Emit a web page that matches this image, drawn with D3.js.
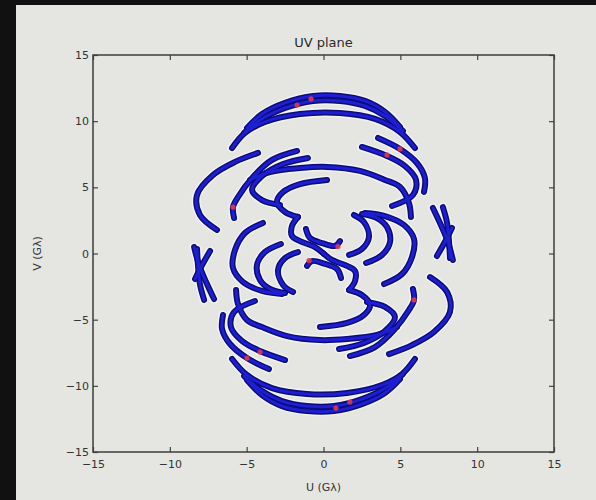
<!DOCTYPE html>
<html><head><meta charset="utf-8">
<script src="https://cdn.jsdelivr.net/npm/d3@7"></script>
<style>html,body{margin:0;padding:0;background:#e5e6e2;}svg{display:block}</style>
</head><body><svg id="chart" width="596" height="500"></svg>
<script>
// ---- data (U, V in Gλ); each track is one baseline, its conjugate (-u,-v) is drawn too ----
const axisTicks = [-15, -10, -5, 0, 5, 10, 15];
const chartTitle = "UV plane";
const xLabel = "U (Gλ)";
const yLabel = "V (Gλ)";

const trackT1  = [[-4.98,9.49],[-4.00,10.54],[-2.50,11.38],[-0.68,11.90],[1.07,11.90],[2.70,11.53],[4.00,10.70],[4.98,9.56]];
const trackT1b = [[-5.17,9.11],[-4.13,10.09],[-2.50,11.00],[-0.68,11.53],[1.07,11.53],[2.70,11.15],[4.00,10.39],[5.17,9.26]];
const trackT2  = [[-5.95,7.97],[-5.11,9.11],[-3.81,9.94],[-1.53,10.54],[1.07,10.62],[3.35,10.17],[4.98,9.18],[5.95,7.97]];
const trackC   = [[2.50,8.05],[4.13,7.37],[5.30,6.61],[6.02,5.56],[5.82,4.42],[4.46,3.59]];
const trackD   = [[3.55,8.73],[4.98,7.90],[6.08,6.84],[6.60,5.71],[6.54,4.65]];
const trackE   = [[-4.78,5.56],[-3.48,6.16],[-1.53,6.46],[0.23,6.54],[2.37,6.24],[4.00,5.56],[4.98,5.03],[5.56,3.82],[5.69,2.76]];
const trackF   = [[-4.26,7.60],[-5.76,6.92],[-7.19,5.93],[-8.23,4.42],[-8.04,2.91],[-6.93,1.78]];
const trackG   = [[-1.72,7.75],[-3.35,7.07],[-4.59,5.78],[-5.56,4.27],[-5.89,3.51],[-5.82,2.68]];
const trackH   = [[-1.01,7.22],[-2.63,6.76],[-4.00,5.86],[-4.65,4.80],[-4.00,4.04],[-2.83,3.67]];
const trackI   = [[0.23,5.56],[-1.53,5.25],[-2.63,4.65],[-3.03,3.89],[-2.50,3.14],[-1.66,2.76]];
const trackW1  = [[-1.66,2.76],[-2.05,2.08],[-2.05,1.32],[-1.53,0.94],[-0.55,0.49],[0.0,0.0]];
const trackW2  = [[-1.14,1.85],[-0.88,1.17],[-0.10,0.79],[0.75,0.57],[1.07,0.94]];
const trackX1  = [[7.12,3.44],[7.64,2.15],[8.10,0.87],[8.42,-0.49]];
const trackX2  = [[7.77,3.51],[8.03,2.38],[8.16,1.02],[8.23,-0.34]];
const trackX3  = [[8.36,1.93],[7.97,1.02],[7.38,-0.19]];
const trackLa  = [[-3.94,2.31],[-5.11,1.55],[-5.76,0.26],[-5.89,-1.10],[-5.24,-2.15],[-4.00,-2.83],[-2.70,-3.06]];
const trackLb  = [[-2.77,0.72],[-3.81,0.11],[-4.33,-0.87],[-4.13,-2.00],[-3.48,-2.68],[-2.50,-2.99]];
const trackLc  = [[-1.66,0.11],[-2.50,-0.34],[-2.96,-1.25],[-2.63,-2.38],[-1.98,-2.91]];

const redU = [-1.72, -0.81, 4.13, 4.98, -5.89, 0.94];
const redV = [11.22, 11.68, 7.45, 7.90, 3.51, 0.53];

const tracks = [trackT1, trackT1b, trackT2, trackC, trackD, trackE, trackF, trackG, trackH,
                trackI, trackW1, trackW2, trackX1, trackX2, trackX3, trackLa, trackLb, trackLc];

// ---- drawing ----
const svg = d3.select("#chart");
svg.append("rect").attr("x",0).attr("y",0).attr("width",596).attr("height",500).attr("fill","#e5e6e2");
// dark photo border
svg.append("rect").attr("x",0).attr("y",0).attr("width",16).attr("height",500).attr("fill","#111");
svg.append("rect").attr("x",0).attr("y",0).attr("width",596).attr("height",5).attr("fill","#111");

const x = d3.scaleLinear().domain([-15,15]).range([93,554]);
const y = d3.scaleLinear().domain([-15,15]).range([452,55]);

const allTracks = [];
tracks.forEach(t => { allTracks.push(t); allTracks.push(t.map(p => [-p[0], -p[1]])); });

const line = d3.line().x(d => x(d[0])).y(d => y(d[1])).curve(d3.curveCatmullRom.alpha(0.5));

const g = svg.append("g");
g.selectAll("path.halo").data(allTracks).join("path").attr("class","halo")
  .attr("d", line).attr("fill","none").attr("stroke","#ffffff").attr("stroke-opacity",0.55)
  .attr("stroke-width",9).attr("stroke-linecap","round");
g.selectAll("path.edge").data(allTracks).join("path").attr("class","edge")
  .attr("d", line).attr("fill","none").attr("stroke","#0c0c78")
  .attr("stroke-width",6).attr("stroke-linecap","round");
g.selectAll("path.core").data(allTracks).join("path").attr("class","core")
  .attr("d", line).attr("fill","none").attr("stroke","#1e1ed2")
  .attr("stroke-width",3).attr("stroke-linecap","round");

const reds = [];
redU.forEach((u,i) => { reds.push([u, redV[i]]); reds.push([-u, -redV[i]]); });
g.selectAll("circle.red").data(reds).join("circle").attr("class","red")
  .attr("cx", d => x(d[0])).attr("cy", d => y(d[1])).attr("r", 2.6)
  .attr("fill","#e0384a").attr("fill-opacity",0.9);

// axes (inward ticks, classic matplotlib)
const fontFam = "'DejaVu Sans', sans-serif";
const axB = svg.append("g").attr("transform","translate(0,452)")
  .call(d3.axisBottom(x).tickValues(axisTicks).tickSizeInner(-5).tickSizeOuter(0).tickPadding(8));
const axL = svg.append("g").attr("transform","translate(93,0)")
  .call(d3.axisLeft(y).tickValues(axisTicks).tickSizeInner(-5).tickSizeOuter(0).tickPadding(4));
const axT = svg.append("g").attr("transform","translate(0,55)")
  .call(d3.axisTop(x).tickValues(axisTicks).tickSizeInner(-5).tickSizeOuter(0).tickFormat(""));
const axR = svg.append("g").attr("transform","translate(554,0)")
  .call(d3.axisRight(y).tickValues(axisTicks).tickSizeInner(-5).tickSizeOuter(0).tickFormat(""));
[axB, axL, axT, axR].forEach(a => {
  a.select(".domain").remove();
  a.selectAll("line").attr("stroke","#444").attr("stroke-width",1.2);
  a.selectAll("text").attr("font-family",fontFam).attr("font-size",11).attr("fill","#333");
});
svg.append("rect").attr("x",93).attr("y",55).attr("width",461).attr("height",397)
  .attr("fill","none").attr("stroke","#3c3c3c").attr("stroke-width",1.5);

svg.append("text").attr("x",323.5).attr("y",47).attr("text-anchor","middle")
  .attr("font-family",fontFam).attr("font-size",13).attr("fill","#2a2a2a").text(chartTitle);
svg.append("text").attr("x",323.5).attr("y",491).attr("text-anchor","middle")
  .attr("font-family",fontFam).attr("font-size",11).attr("fill","#333").text(xLabel);
svg.append("text").attr("transform","translate(41,253.5) rotate(-90)").attr("text-anchor","middle")
  .attr("font-family",fontFam).attr("font-size",11).attr("fill","#333").text(yLabel);
</script>
</body></html>
